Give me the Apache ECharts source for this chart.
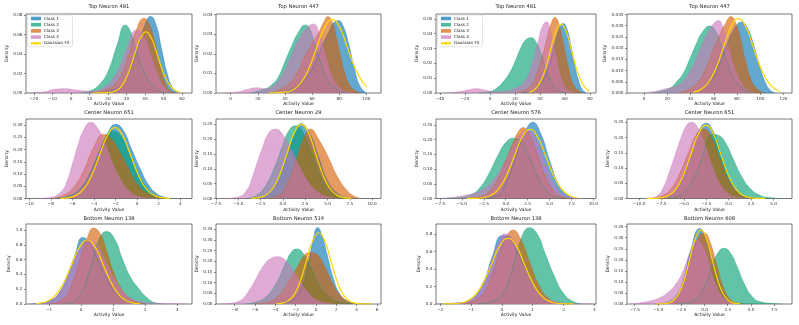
<!DOCTYPE html>
<html>
<head>
<meta charset="utf-8">
<script src="https://cdn.jsdelivr.net/npm/echarts@6/dist/echarts.min.js"></script>
<style>
  html, body { margin: 0; padding: 0; background: #fff; }
  #chart { width: 799px; height: 325px; }
</style>
</head>
<body>
<div id="chart"></div>
<script>
// ---- density curves, [activity value, density] ----
// panel 1: Top Neuron 481 (left)
const p1_c1 = [[15,0],[25,0.005],[30,0.015],[35,0.04],[40,0.07],[43,0.079],[46,0.07],[49,0.045],[52,0.02],[55,0.005],[58,0]];
const p1_c2 = [[5,0],[10,0.002],[15,0.008],[20,0.022],[25,0.05],[29.3,0.07],[32,0.064],[35,0.045],[40,0.02],[45,0.006],[50,0.001],[55,0]];
const p1_c3 = [[10,0],[20,0.004],[25,0.012],[30,0.032],[35,0.063],[39.5,0.077],[42,0.072],[45,0.055],[48,0.03],[51,0.01],[54,0.002],[57,0]];
const p1_c4 = [[-25,0],[-15,0.001],[-8,0.004],[-3,0.0045],[3,0.003],[10,0.002],[18,0.006],[25,0.022],[30,0.045],[35.5,0.065],[39,0.06],[43,0.04],[47,0.018],[51,0.005],[55,0]];
const p1_fit = [[12,0],[20,0.0003],[25,0.0031],[27.5,0.0076],[30,0.0159],[32.5,0.0283],[35,0.0432],[37.5,0.0563],[40.5,0.063],[43.5,0.0563],[46,0.0432],[48.5,0.0283],[51,0.0159],[53.5,0.0076],[56,0.0031],[59,0.0009]];
// panel 2: Top Neuron 447 (left)
const p2_c1 = [[35,0],[45,0.002],[55,0.007],[62,0.015],[68,0.025],[73,0.032],[76,0.036],[79.6,0.0369],[83,0.034],[87,0.025],[91,0.013],[95,0.004],[100,0]];
const p2_c2 = [[15,0],[25,0.002],[30,0.004],[35,0.008],[40,0.016],[45,0.024],[50,0.031],[55,0.0347],[58,0.033],[62,0.025],[67,0.014],[72,0.006],[78,0.002],[85,0]];
const p2_c3 = [[30,0],[40,0.003],[48,0.009],[55,0.019],[60,0.025],[65,0.031],[68.5,0.036],[71.7,0.039],[75,0.036],[79,0.025],[83,0.013],[87,0.005],[92,0.001],[97,0]];
const p2_c4 = [[-5,0],[5,0.0005],[12,0.0018],[19,0.0027],[26,0.0022],[32,0.004],[38,0.009],[44,0.018],[50,0.027],[56,0.033],[61,0.0352],[65,0.031],[70,0.019],[75,0.008],[80,0.003],[86,0.0005],[92,0]];
const p2_fit = [[28,0],[40.2,0.0004],[46,0.0017],[51.7,0.0051],[57.5,0.0122],[63.2,0.0228],[69,0.0332],[74.7,0.0376],[80.5,0.0332],[86.2,0.0228],[92,0.0122],[97.7,0.0051],[100.5,0.0031]];
// panel 3: Top Neuron 481 (right)
const p3_c1 = [[25,0],[35,0.002],[42,0.008],[47,0.018],[51,0.03],[55,0.042],[58.7,0.0468],[62,0.042],[65,0.031],[68,0.018],[71,0.008],[74,0.002],[77,0]];
const p3_c2 = [[-10,0],[0,0.001],[5,0.003],[10,0.007],[16,0.014],[20,0.021],[25,0.031],[29,0.036],[33,0.0372],[37,0.034],[41,0.026],[45,0.015],[50,0.006],[55,0.0015],[60,0]];
const p3_c3 = [[20,0],[30,0.003],[36,0.01],[41,0.022],[45,0.035],[49,0.047],[52,0.0509],[55,0.047],[58,0.036],[62,0.02],[66,0.007],[70,0.002],[74,0]];
const p3_c4 = [[-35,0],[-25,0.0008],[-18,0.002],[-11,0.0029],[-4,0.002],[3,0.0008],[10,0.001],[20,0.003],[28,0.008],[33,0.018],[38,0.033],[42,0.045],[45.3,0.048],[48,0.043],[52,0.028],[56,0.013],[60,0.004],[64,0.001],[68,0]];
const p3_fit = [[31,0.0005],[35.3,0.002],[39.6,0.0063],[43.9,0.0151],[48.2,0.0281],[52.5,0.041],[56.8,0.0464],[61.1,0.041],[65.4,0.0281],[69.7,0.0151],[74,0.0063],[78.3,0.002],[79.6,0.0014]];
// panel 4: Top Neuron 447 (right)
const p4_c1 = [[40,0],[50,0.002],[58,0.006],[65,0.013],[71,0.021],[77,0.028],[84,0.0316],[89,0.029],[94,0.022],[99,0.013],[104,0.005],[109,0.001],[113,0]];
const p4_c2 = [[5,0],[15,0.0008],[22,0.002],[28,0.005],[34,0.009],[40,0.016],[45,0.022],[50,0.027],[56.7,0.0299],[61,0.028],[66,0.022],[72,0.013],[78,0.006],[85,0.002],[92,0]];
const p4_c3 = [[30,0],[40,0.002],[48,0.006],[55,0.013],[61,0.021],[66,0.027],[70,0.031],[74.8,0.0341],[79,0.031],[83,0.024],[87,0.015],[92,0.006],[97,0.002],[103,0]];
const p4_c4 = [[0,0],[10,0.0008],[19,0.002],[27,0.003],[35,0.006],[42,0.012],[48,0.019],[54,0.026],[60,0.031],[64,0.0323],[68,0.029],[73,0.02],[78,0.011],[84,0.004],[90,0.001],[96,0]];
const p4_fit = [[42.2,0.0004],[48.7,0.0015],[55.2,0.0045],[61.7,0.0108],[68.2,0.0201],[74.7,0.0293],[81.2,0.0332],[87.7,0.0293],[94.2,0.0201],[100.7,0.0108],[107.2,0.0045],[113.7,0.0015],[117,0.0008]];
// panel 5: Center Neuron 651 (left)
const p5_c1 = [[-7.5,0],[-6.5,0.008],[-5.5,0.03],[-4.5,0.09],[-3.5,0.19],[-2.7,0.27],[-2,0.303],[-1.3,0.28],[-0.5,0.2],[0.3,0.12],[1,0.06],[1.8,0.02],[2.6,0.004],[3.2,0]];
const p5_c2 = [[-7.5,0],[-6.5,0.008],[-5.5,0.03],[-4.5,0.09],[-3.5,0.19],[-2.8,0.25],[-2.3,0.275],[-1.6,0.26],[-0.8,0.19],[0,0.11],[0.8,0.05],[1.6,0.015],[2.5,0.003],[3.2,0]];
const p5_c3 = [[-8,0],[-7,0.01],[-6,0.04],[-5,0.11],[-4,0.21],[-3.1,0.262],[-2.5,0.25],[-2,0.22],[-1,0.14],[0,0.06],[1,0.02],[2,0.005],[3,0]];
const p5_c4 = [[-9.5,0],[-8,0.005],[-7,0.03],[-6.5,0.07],[-6,0.14],[-5.5,0.215],[-5,0.275],[-4.3,0.311],[-3.7,0.29],[-3,0.23],[-2.3,0.15],[-1.5,0.075],[-0.7,0.03],[0,0.01],[1,0.002],[2,0]];
const p5_fit = [[-7.12,0.0006],[-6.39,0.0032],[-5.67,0.0127],[-4.94,0.0391],[-4.22,0.0938],[-3.49,0.1753],[-2.77,0.255],[-2.04,0.289],[-1.32,0.255],[-0.59,0.1753],[0.14,0.0938],[0.86,0.0391],[1.59,0.0127],[2.31,0.0032],[3.04,0.0006]];
// panel 6: Center Neuron 29 (left)
const p6_c1 = [[-3,0],[-2,0.01],[-1,0.04],[0,0.1],[1,0.19],[2.07,0.253],[3,0.22],[4,0.14],[5,0.06],[6,0.02],[7,0.004],[8,0]];
const p6_c2 = [[-4,0],[-3,0.01],[-2,0.04],[-1,0.1],[0,0.18],[0.7,0.23],[1.4,0.245],[2,0.235],[3,0.17],[4,0.09],[5,0.035],[6,0.01],[7,0]];
const p6_c3 = [[-2,0],[-0.5,0.01],[0.5,0.05],[1.5,0.13],[2.3,0.2],[3.1,0.234],[4,0.2],[5,0.145],[6,0.08],[7,0.034],[8,0.008],[9,0]];
const p6_c4 = [[-6.5,0],[-5,0.005],[-4,0.03],[-3.5,0.065],[-3,0.11],[-2.3,0.17],[-1.6,0.22],[-0.85,0.234],[0,0.215],[1,0.16],[2,0.1],[3,0.05],[4,0.02],[5,0.006],[6,0]];
const p6_fit = [[-3.53,0.0006],[-2.73,0.0028],[-1.93,0.011],[-1.13,0.0338],[-0.33,0.0812],[0.47,0.1516],[1.27,0.2206],[2.07,0.25],[2.87,0.2206],[3.67,0.1516],[4.47,0.0812],[5.27,0.0338],[6.07,0.011],[6.87,0.0028],[7.67,0.0006]];
// panel 7: Center Neuron 576 (right)
const p7_c1 = [[-3,0],[-1,0.01],[0,0.05],[1,0.13],[2,0.21],[3.1,0.259],[4,0.22],[5,0.13],[6,0.05],[7,0.012],[8,0]];
const p7_c2 = [[-7.5,0],[-5,0.004],[-4,0.012],[-3,0.035],[-2,0.08],[-1,0.14],[0,0.19],[0.9,0.205],[1.8,0.19],[2.7,0.14],[3.7,0.07],[4.7,0.025],[5.7,0.006],[7,0]];
const p7_c3 = [[-5,0],[-3,0.005],[-2,0.02],[-1,0.06],[0,0.13],[1,0.2],[1.5,0.23],[2,0.241],[2.8,0.21],[3.7,0.14],[4.6,0.07],[5.5,0.025],[6.5,0.005],[7.5,0]];
const p7_c4 = [[-7.5,0],[-6,0.004],[-4.5,0.012],[-3,0.025],[-1.5,0.06],[0,0.13],[1,0.19],[2,0.225],[2.6,0.23],[3.5,0.2],[4.5,0.12],[5.5,0.05],[6.5,0.015],[7.5,0.003],[8.5,0]];
const p7_fit = [[-4.43,0.0001],[-3.53,0.0005],[-2.63,0.0026],[-1.73,0.0103],[-0.83,0.0318],[0.07,0.0763],[0.97,0.1425],[1.87,0.2074],[2.77,0.235],[3.67,0.2074],[4.57,0.1425],[5.47,0.0763],[6.37,0.0318],[7.27,0.0103],[8.17,0.0026]];
// panel 8: Center Neuron 651 (right)
const p8_c1 = [[-8,0],[-7,0.006],[-6,0.025],[-5,0.075],[-4,0.16],[-3.2,0.23],[-2.5,0.247],[-1.8,0.225],[-1,0.16],[0,0.07],[1,0.02],[2,0.004],[3,0]];
const p8_c2 = [[-7,0],[-6,0.005],[-5,0.02],[-4,0.06],[-3,0.13],[-2.3,0.2],[-1.7,0.21],[-1.1,0.207],[-0.3,0.18],[0.5,0.13],[1.5,0.07],[2.5,0.03],[3.5,0.01],[4.5,0.003],[6,0]];
const p8_c3 = [[-8.5,0],[-7.5,0.008],[-6.5,0.03],[-5.5,0.08],[-4.5,0.15],[-3.5,0.215],[-2.8,0.228],[-2,0.205],[-1,0.13],[0,0.06],[1,0.02],[2,0.004],[3,0]];
const p8_c4 = [[-9,0],[-8,0.008],[-7.3,0.035],[-6.7,0.08],[-6,0.14],[-5.3,0.2],[-4.7,0.24],[-4.1,0.25],[-3.5,0.235],[-2.8,0.19],[-2,0.12],[-1,0.05],[0,0.015],[1,0.003],[2,0]];
const p8_fit = [[-9.14,0.0001],[-8.32,0.0005],[-7.49,0.0027],[-6.67,0.0106],[-5.84,0.0326],[-5.02,0.0783],[-4.19,0.1462],[-3.37,0.2127],[-2.54,0.241],[-1.72,0.2127],[-0.89,0.1462],[-0.07,0.0783],[0.76,0.0326],[1.59,0.0106],[2.41,0.0027],[3.24,0.0005],[4.06,0.0001]];
// panel 9: Bottom Neuron 138 (left)
const p9_c1 = [[-1.6,0],[-1.3,0.01],[-1,0.04],[-0.7,0.14],[-0.4,0.42],[-0.2,0.65],[0.05,0.9],[0.25,0.84],[0.5,0.62],[0.8,0.35],[1.1,0.15],[1.4,0.05],[1.7,0.01],[2,0]];
const p9_c2 = [[-0.6,0],[-0.3,0.02],[0,0.15],[0.3,0.5],[0.55,0.86],[0.8,0.978],[1.05,0.88],[1.3,0.6],[1.55,0.36],[1.8,0.21],[2.05,0.09],[2.3,0.02],[2.6,0]];
const p9_c3 = [[-1,0],[-0.6,0.05],[-0.3,0.25],[0,0.65],[0.2,0.9],[0.39,1.027],[0.6,0.95],[0.8,0.72],[1,0.45],[1.3,0.18],[1.6,0.05],[2,0]];
const p9_c4 = [[-1.7,0],[-1.3,0.01],[-1,0.04],[-0.7,0.14],[-0.4,0.38],[-0.1,0.7],[0.1,0.84],[0.28,0.865],[0.5,0.8],[0.8,0.55],[1.1,0.3],[1.4,0.13],[1.8,0.04],[2.3,0.01],[3,0.005],[3.3,0]];
const p9_fit = [[-1.4,0.005],[-1.3,0.0096],[-1.05,0.038],[-0.8,0.117],[-0.55,0.281],[-0.3,0.525],[-0.05,0.763],[0.2,0.865],[0.45,0.763],[0.7,0.525],[0.95,0.281],[1.2,0.117],[1.45,0.038],[1.7,0.0096],[1.85,0.0037]];
// panel 10: Bottom Neuron 514 (left)
const p10_c1 = [[-4,0],[-3,0.005],[-2,0.03],[-1.3,0.09],[-0.7,0.2],[-0.3,0.3],[0.16,0.359],[0.6,0.32],[1.1,0.23],[1.7,0.12],[2.3,0.05],[3,0.015],[4,0.002],[5,0]];
const p10_c2 = [[-7,0],[-6,0.008],[-5,0.03],[-4,0.09],[-3,0.19],[-2.4,0.245],[-1.9,0.258],[-1.3,0.24],[-0.5,0.17],[0.3,0.09],[1.2,0.035],[2.2,0.01],[3.5,0]];
const p10_c3 = [[-6,0],[-5,0.005],[-4,0.025],[-3,0.08],[-2,0.16],[-1.2,0.225],[-0.6,0.241],[0,0.235],[0.8,0.18],[1.6,0.1],[2.4,0.04],[3.2,0.012],[4,0.002],[5,0]];
const p10_c4 = [[-9.5,0],[-8.5,0.003],[-7.5,0.015],[-7,0.035],[-6.5,0.07],[-6,0.11],[-5.5,0.155],[-5,0.19],[-4.5,0.212],[-3.8,0.222],[-3,0.205],[-2.3,0.16],[-1.5,0.1],[-0.7,0.05],[0,0.02],[1,0.005],[2,0]];
const p10_fit = [[-3.94,0.0007],[-3.34,0.0037],[-2.74,0.0147],[-2.14,0.0452],[-1.54,0.1084],[-0.94,0.2026],[-0.34,0.2948],[0.26,0.334],[0.86,0.2948],[1.46,0.2026],[2.06,0.1084],[2.66,0.0452],[3.26,0.0147],[3.86,0.0037],[4.46,0.0007],[5.5,0.0001]];
// panel 11: Bottom Neuron 138 (right)
const p11_c1 = [[-2,0],[-1.5,0.01],[-1,0.06],[-0.6,0.25],[-0.3,0.55],[0,0.78],[0.2,0.77],[0.5,0.6],[0.8,0.38],[1.1,0.18],[1.4,0.06],[1.8,0.01],[2.2,0]];
const p11_c2 = [[-0.8,0],[-0.4,0.02],[0,0.1],[0.3,0.35],[0.6,0.72],[0.9,0.872],[1.15,0.8],[1.4,0.58],[1.7,0.32],[2,0.12],[2.3,0.03],[2.6,0]];
const p11_c3 = [[-1.3,0],[-1,0.02],[-0.6,0.12],[-0.3,0.35],[0,0.65],[0.2,0.8],[0.37,0.846],[0.6,0.75],[0.9,0.48],[1.2,0.22],[1.5,0.07],[1.9,0.01],[2.3,0]];
const p11_c4 = [[-2.2,0],[-1.5,0.01],[-1,0.05],[-0.6,0.22],[-0.3,0.52],[0,0.78],[0.1,0.8],[0.35,0.74],[0.7,0.48],[1,0.25],[1.3,0.1],[1.7,0.03],[2.2,0.006],[2.8,0.003],[3,0]];
const p11_fit = [[-1.92,0.0003],[-1.66,0.0016],[-1.39,0.0083],[-1.13,0.0329],[-0.86,0.1015],[-0.6,0.2435],[-0.33,0.4549],[-0.07,0.6619],[0.2,0.75],[0.47,0.6619],[0.73,0.4549],[1,0.2435],[1.26,0.1015],[1.53,0.0329],[1.79,0.0083],[2.06,0.0016],[2.32,0.0003]];
// panel 12: Bottom Neuron 608 (right)
const p12_c1 = [[-5,0],[-4,0.008],[-3,0.04],[-2.2,0.12],[-1.5,0.24],[-0.5,0.342],[0.2,0.3],[0.9,0.2],[1.6,0.1],[2.3,0.035],[3,0.008],[4,0]];
const p12_c2 = [[-3,0],[-2,0.005],[-1,0.02],[0,0.08],[0.8,0.17],[1.5,0.235],[2.1,0.252],[2.8,0.23],[3.5,0.17],[4.3,0.09],[5.1,0.035],[6,0.01],[7.5,0.002],[8.5,0]];
const p12_c3 = [[-5,0],[-4,0.005],[-3,0.03],[-2.2,0.1],[-1.3,0.23],[-0.5,0.31],[0,0.32],[0.6,0.28],[1.3,0.18],[2,0.08],[2.7,0.025],[3.5,0.005],[4.5,0]];
const p12_c4 = [[-8,0],[-7,0.005],[-6,0.012],[-5,0.025],[-4,0.05],[-3,0.095],[-2.2,0.16],[-1.5,0.24],[-0.85,0.29],[-0.2,0.26],[0.5,0.18],[1.2,0.09],[2,0.03],[2.8,0.008],[3.8,0]];
const p12_fit = [[-5.18,0.0001],[-4.58,0.0007],[-3.98,0.0037],[-3.38,0.0147],[-2.78,0.0453],[-2.18,0.1088],[-1.58,0.2032],[-0.98,0.2956],[-0.38,0.335],[0.22,0.2956],[0.82,0.2032],[1.42,0.1088],[2.02,0.0453],[2.62,0.0147],[3.22,0.0037],[3.82,0.0007]];

const classNames = ["Class 1", "Class 2", "Class 3", "Class 4"];
const fitName = "Gaussian Fit";
const titles = ["Top Neuron 481", "Top Neuron 447", "Top Neuron 481", "Top Neuron 447",
  "Center Neuron 651", "Center Neuron 29", "Center Neuron 576", "Center Neuron 651",
  "Bottom Neuron 138", "Bottom Neuron 514", "Bottom Neuron 138", "Bottom Neuron 608"];
const classCurves = [
  [p1_c1, p1_c2, p1_c3, p1_c4], [p2_c1, p2_c2, p2_c3, p2_c4], [p3_c1, p3_c2, p3_c3, p3_c4], [p4_c1, p4_c2, p4_c3, p4_c4],
  [p5_c1, p5_c2, p5_c3, p5_c4], [p6_c1, p6_c2, p6_c3, p6_c4], [p7_c1, p7_c2, p7_c3, p7_c4], [p8_c1, p8_c2, p8_c3, p8_c4],
  [p9_c1, p9_c2, p9_c3, p9_c4], [p10_c1, p10_c2, p10_c3, p10_c4], [p11_c1, p11_c2, p11_c3, p11_c4], [p12_c1, p12_c2, p12_c3, p12_c4]];
const fitCurves = [p1_fit, p2_fit, p3_fit, p4_fit, p5_fit, p6_fit, p7_fit, p8_fit, p9_fit, p10_fit, p11_fit, p12_fit];

// axis ranges and tick labels
const xRanges = [[-24.3, 65.4], [-10.8, 110.8], [-43.2, 84.8], [-14.7, 127.3],
  [-10.3, 5.09], [-7.5, 11.0], [-7.96, 10.3], [-11.34, 7.06],
  [-1.72, 3.47], [-9.84, 6.39], [-2.13, 3.05], [-8.33, 9.41]];
const xTicks = [
  [-20, -10, 0, 10, 20, 30, 40, 50, 60], [0, 20, 40, 60, 80, 100], [-40, -20, 0, 20, 40, 60, 80], [0, 20, 40, 60, 80, 100, 120],
  [-10, -8, -6, -4, -2, 0, 2, 4], [-7.5, -5, -2.5, 0, 2.5, 5, 7.5, 10], [-7.5, -5, -2.5, 0, 2.5, 5, 7.5, 10], [-10, -7.5, -5, -2.5, 0, 2.5, 5],
  [-1, 0, 1, 2, 3], [-8, -6, -4, -2, 0, 2, 4, 6], [-2, -1, 0, 1, 2, 3], [-7.5, -5, -2.5, 0, 2.5, 5, 7.5]];
const xDecimals = [0, 0, 0, 0, 0, 1, 1, 1, 0, 0, 0, 1];
const yMaxes = [0.0813, 0.0403, 0.0532, 0.0352, 0.3245, 0.268, 0.27, 0.261, 1.081, 0.375, 0.914, 0.362];
const yTicks = [
  [0, 0.02, 0.04, 0.06, 0.08], [0, 0.01, 0.02, 0.03, 0.04], [0, 0.01, 0.02, 0.03, 0.04, 0.05],
  [0, 0.005, 0.01, 0.015, 0.02, 0.025, 0.03, 0.035],
  [0, 0.05, 0.1, 0.15, 0.2, 0.25, 0.3], [0, 0.05, 0.1, 0.15, 0.2, 0.25], [0, 0.05, 0.1, 0.15, 0.2, 0.25], [0, 0.05, 0.1, 0.15, 0.2, 0.25],
  [0, 0.2, 0.4, 0.6, 0.8, 1.0], [0, 0.05, 0.1, 0.15, 0.2, 0.25, 0.3, 0.35], [0, 0.2, 0.4, 0.6, 0.8], [0, 0.05, 0.1, 0.15, 0.2, 0.25, 0.3, 0.35]];
const yDecimals = [2, 2, 2, 3, 2, 2, 2, 2, 1, 2, 1, 2];

// layout (pixels)
const colLeft = [26, 216, 436, 627];
const colWidth = [166, 165, 160, 165];
const rowTop = [14, 119, 224];
const rowHeight = [79, 79.5, 80];
const titleTop = [4, 110.5, 216.5];
const yNameGap = [15, 15.5, 14.5, 17];

const classColors = ["#0173b2", "#029e73", "#d55e00", "#cc78bc"];
const fitColor = "#ffd700";
const font = "DejaVu Sans";

function fmt(v, d) {
  return v.toFixed(d).replace("-", "\u2212");
}

var grids = [], xAxes = [], yAxes = [], titleList = [], series = [], legends = [];

for (let i = 0; i < 12; i++) {
  var r = Math.floor(i / 4), c = i % 4;
  grids.push({
    left: colLeft[c], top: rowTop[r], width: colWidth[c], height: rowHeight[r],
    show: true, borderColor: "#555", borderWidth: 0.8, containLabel: false,
  });
  titleList.push({
    text: titles[i],
    left: colLeft[c] + colWidth[c] / 2, top: titleTop[r], textAlign: "center", padding: 0,
    textStyle: { fontSize: 5.2, fontWeight: "normal", color: "#222", fontFamily: font },
  });
  xAxes.push({
    gridIndex: i, type: "value", min: xRanges[i][0], max: xRanges[i][1],
    name: "Activity Value", nameLocation: "middle", nameGap: 8.5,
    nameTextStyle: { fontSize: 4.5, color: "#222", fontFamily: font },
    axisLine: { show: false, onZero: false }, splitLine: { show: false },
    axisTick: { show: true, length: 2, customValues: xTicks[i], lineStyle: { color: "#444", width: 0.6 } },
    axisLabel: {
      customValues: xTicks[i], fontSize: 4.2, color: "#333", margin: 3.5, fontFamily: font,
      formatter: (function (d) { return function (v) { return fmt(v, d); }; })(xDecimals[i]),
    },
  });
  yAxes.push({
    gridIndex: i, type: "value", min: 0, max: yMaxes[i],
    name: "Density", nameLocation: "middle", nameGap: yNameGap[c],
    nameTextStyle: { fontSize: 4.5, color: "#222", fontFamily: font },
    axisLine: { show: false, onZero: false }, splitLine: { show: false },
    axisTick: { show: true, length: 2, customValues: yTicks[i], lineStyle: { color: "#444", width: 0.6 } },
    axisLabel: {
      customValues: yTicks[i], fontSize: 4.2, color: "#333", margin: 3.5, fontFamily: font,
      formatter: (function (d) { return function (v) { return fmt(v, d); }; })(yDecimals[i]),
    },
  });
  for (let k = 0; k < 4; k++) {
    series.push({
      type: "line", name: classNames[k], xAxisIndex: i, yAxisIndex: i,
      data: classCurves[i][k], smooth: 0.5, symbol: "none", silent: true,
      itemStyle: { color: classColors[k] },
      lineStyle: { color: classColors[k], width: 0.5, opacity: 0.7 },
      areaStyle: { color: classColors[k], opacity: 0.62 },
      z: 2,
    });
  }
  series.push({
    type: "line", name: fitName, xAxisIndex: i, yAxisIndex: i,
    data: fitCurves[i], smooth: 0.5, symbol: "none", silent: true,
    itemStyle: { color: fitColor },
    lineStyle: { color: fitColor, width: 1.2 },
    z: 3,
  });
}

// legends sit in the first panel of each half
[0, 2].forEach(function (c) {
  legends.push({
    orient: "vertical", left: colLeft[c] + 1.5, top: rowTop[0] + 1,
    itemWidth: 10, itemHeight: 3.6, itemGap: 2.2, padding: [1.5, 3, 1.5, 2.5],
    borderColor: "#d0d0d0", borderWidth: 0.6, borderRadius: 1.5,
    backgroundColor: "rgba(255,255,255,0.8)", selectedMode: false,
    textStyle: { fontSize: 4.2, color: "#222", fontFamily: font, padding: [0, 0, 0, -2] },
    data: classNames.map(function (n, k) {
      return { name: n, icon: "rect", itemStyle: { color: classColors[k], opacity: 0.7, borderWidth: 0 } };
    }).concat([{ name: fitName }]),
  });
});

var chart = echarts.init(document.getElementById("chart"), null, { renderer: "canvas" });
chart.setOption({
  animation: false,
  backgroundColor: "#fff",
  title: titleList,
  legend: legends,
  grid: grids,
  xAxis: xAxes,
  yAxis: yAxes,
  series: series,
});
</script>
</body>
</html>
